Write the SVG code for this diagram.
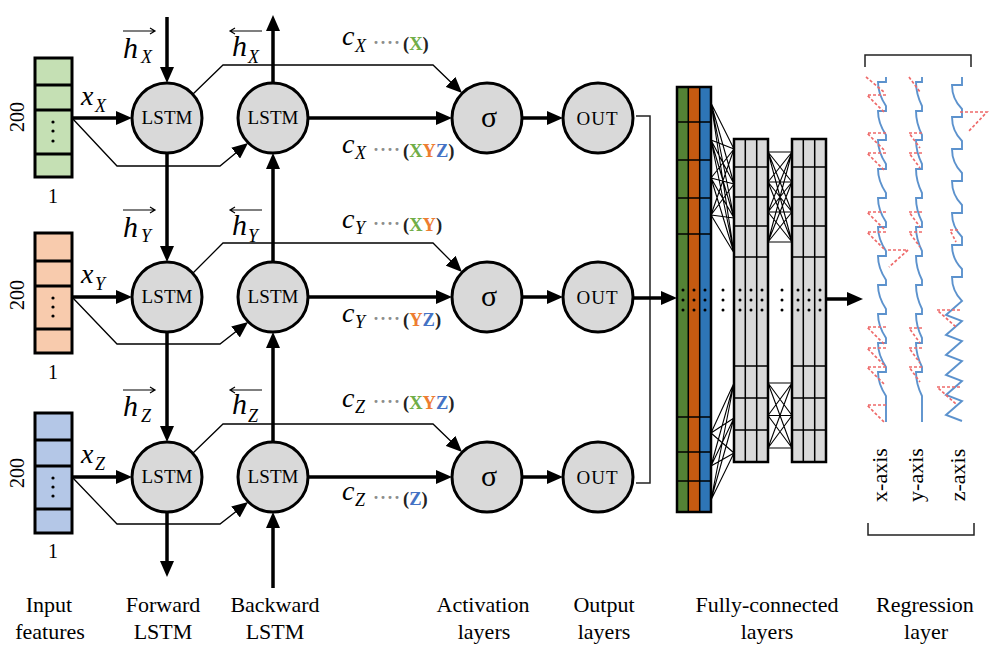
<svg xmlns="http://www.w3.org/2000/svg" width="1004" height="660" viewBox="0 0 1004 660">
<defs>
<marker id="ah" viewBox="0 0 16 14" refX="10" refY="7" markerWidth="16" markerHeight="14" markerUnits="userSpaceOnUse" orient="auto"><path d="M0,0 L16,7 L0,14 z" fill="#000"/></marker>
</defs>
<style>
.cir{fill:#d9d9d9;stroke:#000;stroke-width:3}
.box{stroke:#000;stroke-width:3}
.thick{stroke:#000;stroke-width:3.5;fill:none}
.thin{stroke:#000;stroke-width:1.3;fill:none}
.ov{stroke:#000;stroke-width:1.2;fill:none}
.ctr{font-family:"Liberation Serif","Times New Roman",serif;text-anchor:middle}
.lbl{font-family:"Liberation Serif","Times New Roman",serif;font-size:22px;text-anchor:middle;fill:#000}
.mi{font-family:"Liberation Serif","Times New Roman",serif;font-style:italic;fill:#000}
.par{font-family:"Liberation Serif","Times New Roman",serif;font-weight:bold;font-size:18.5px;fill:#222}
.dots{font-family:"Liberation Serif","Times New Roman",serif;font-size:18px;font-weight:bold;letter-spacing:1px;fill:#8c8c8c}
.gx{fill:#70ad47}.gy{fill:#ed7d31}.gz{fill:#4472c4}
.fcl{stroke:#000;stroke-width:1.5;fill:none}
.fco{stroke:#000;stroke-width:2.5;fill:none}
.bip{stroke:#000;stroke-width:1.1;fill:none}
.bl{stroke:#3f7fc4;stroke-width:1.9;fill:none;opacity:0.85}
.rd{stroke:#ee6a6a;stroke-width:1.7;fill:none;stroke-dasharray:3 2}
.br{stroke:#222;stroke-width:1.5;fill:none}
</style>
<rect width="1004" height="660" fill="#fff"/>

<!-- Input features -->
<g id="input-x">
<rect class="box" x="35" y="58" width="37" height="119" fill="#c5e0b4"/>
<path class="box" d="M35,85H72M35,110H72M35,154H72" fill="none"/>
<circle cx="53" cy="122" r="1.6"/><circle cx="53" cy="131" r="1.6"/><circle cx="53" cy="141" r="1.6"/>
<text class="ctr" font-size="20" transform="translate(24,117) rotate(-90)">200</text>
<text class="ctr" font-size="20" x="53" y="203">1</text>
</g>
<g id="input-y">
<rect class="box" x="35" y="233" width="37" height="120" fill="#f8cbad"/>
<path class="box" d="M35,261H72M35,286H72M35,329H72" fill="none"/>
<circle cx="53" cy="298" r="1.6"/><circle cx="53" cy="307" r="1.6"/><circle cx="53" cy="316" r="1.6"/>
<text class="ctr" font-size="20" transform="translate(24,295) rotate(-90)">200</text>
<text class="ctr" font-size="20" x="53" y="379">1</text>
</g>
<g id="input-z">
<rect class="box" x="35" y="413" width="37" height="120" fill="#b4c7e7"/>
<path class="box" d="M35,440H72M35,466H72M35,509H72" fill="none"/>
<circle cx="53" cy="478" r="1.6"/><circle cx="53" cy="487" r="1.6"/><circle cx="53" cy="496" r="1.6"/>
<text class="ctr" font-size="20" transform="translate(24,473) rotate(-90)">200</text>
<text class="ctr" font-size="20" x="53" y="558">1</text>
</g>

<!-- Forward LSTM -->
<g id="fwd-x"><circle class="cir" cx="167" cy="118" r="35"/><text class="ctr" font-size="19" x="167" y="124" textLength="51">LSTM</text></g>
<g id="fwd-y"><circle class="cir" cx="167" cy="297" r="35"/><text class="ctr" font-size="19" x="167" y="303" textLength="51">LSTM</text></g>
<g id="fwd-z"><circle class="cir" cx="167" cy="477" r="35"/><text class="ctr" font-size="19" x="167" y="483" textLength="51">LSTM</text></g>
<!-- Backward LSTM -->
<g id="bwd-x"><circle class="cir" cx="273" cy="118" r="35"/><text class="ctr" font-size="19" x="273" y="124" textLength="51">LSTM</text></g>
<g id="bwd-y"><circle class="cir" cx="273" cy="297" r="35"/><text class="ctr" font-size="19" x="273" y="303" textLength="51">LSTM</text></g>
<g id="bwd-z"><circle class="cir" cx="273" cy="477" r="35"/><text class="ctr" font-size="19" x="273" y="483" textLength="51">LSTM</text></g>
<!-- Activation -->
<g id="act-x"><circle class="cir" cx="487" cy="118" r="35"/><text class="ctr" font-size="30" x="489" y="127">σ</text></g>
<g id="act-y"><circle class="cir" cx="487" cy="297" r="35"/><text class="ctr" font-size="30" x="489" y="306">σ</text></g>
<g id="act-z"><circle class="cir" cx="487" cy="477" r="35"/><text class="ctr" font-size="30" x="489" y="486">σ</text></g>
<!-- Output -->
<g id="out-x"><circle class="cir" cx="598" cy="118" r="35"/><text class="ctr" font-size="19" x="597" y="125" textLength="41">OUT</text></g>
<g id="out-y"><circle class="cir" cx="598" cy="297" r="35"/><text class="ctr" font-size="19" x="597" y="304" textLength="41">OUT</text></g>
<g id="out-z"><circle class="cir" cx="598" cy="477" r="35"/><text class="ctr" font-size="19" x="597" y="484" textLength="41">OUT</text></g>

<!-- Fully connected layers -->
<g id="fc-1">
<rect x="677" y="87" width="11.3" height="425" fill="#548235"/>
<rect x="688.3" y="87" width="11.4" height="425" fill="#c55a11"/>
<rect x="699.7" y="87" width="11.3" height="425" fill="#2e75b6"/>
<path class="fcl" d="M688.3,87V512M699.7,87V512M677,122H711M677,160H711M677,198H711M677,234H711M677,417H711M677,452H711M677,481H711"/>
<rect class="fco" x="677" y="87" width="34" height="425"/>
</g>
<g id="fc-2">
<rect x="734" y="139" width="34" height="323" fill="#d9d9d9"/>
<path class="fcl" d="M745.3,139V462M756.7,139V462M734,167H768M734,197H768M734,226H768M734,257H768M734,366H768M734,398H768M734,430H768"/>
<rect class="fco" x="734" y="139" width="34" height="323"/>
</g>
<g id="fc-3">
<rect x="792" y="139" width="34" height="323" fill="#d9d9d9"/>
<path class="fcl" d="M803.3,139V462M814.7,139V462M792,167H826M792,197H826M792,226H826M792,257H826M792,366H826M792,398H826M792,430H826"/>
<rect class="fco" x="792" y="139" width="34" height="323"/>
</g>
<g id="fc-dots" fill="#000">
<circle cx="683" cy="290" r="1.5"/><circle cx="683" cy="300" r="1.5"/><circle cx="683" cy="310" r="1.5"/>
<circle cx="694" cy="290" r="1.5"/><circle cx="694" cy="300" r="1.5"/><circle cx="694" cy="310" r="1.5"/>
<circle cx="705" cy="290" r="1.5"/><circle cx="705" cy="300" r="1.5"/><circle cx="705" cy="310" r="1.5"/>
<circle cx="723" cy="290" r="1.5"/><circle cx="723" cy="300" r="1.5"/><circle cx="723" cy="310" r="1.5"/>
<circle cx="740" cy="290" r="1.5"/><circle cx="740" cy="300" r="1.5"/><circle cx="740" cy="310" r="1.5"/>
<circle cx="751" cy="290" r="1.5"/><circle cx="751" cy="300" r="1.5"/><circle cx="751" cy="310" r="1.5"/>
<circle cx="762" cy="290" r="1.5"/><circle cx="762" cy="300" r="1.5"/><circle cx="762" cy="310" r="1.5"/>
<circle cx="782" cy="290" r="1.5"/><circle cx="782" cy="300" r="1.5"/><circle cx="782" cy="310" r="1.5"/>
<circle cx="798" cy="290" r="1.5"/><circle cx="798" cy="300" r="1.5"/><circle cx="798" cy="310" r="1.5"/>
<circle cx="809" cy="290" r="1.5"/><circle cx="809" cy="300" r="1.5"/><circle cx="809" cy="310" r="1.5"/>
<circle cx="820" cy="290" r="1.5"/><circle cx="820" cy="300" r="1.5"/><circle cx="820" cy="310" r="1.5"/>
</g>
<g id="fc-links">
<path class="bip" d="M711,103L734,149M711,103L734,184M711,103L734,218M711,103L734,253M711,140L734,149M711,140L734,184M711,140L734,218M711,140L734,253M711,178L734,149M711,178L734,184M711,178L734,218M711,178L734,253M711,215L734,149M711,215L734,184M711,215L734,218M711,215L734,253"/>
<path class="bip" d="M711,433L734,383M711,433L734,418M711,433L734,453M711,466L734,383M711,466L734,418M711,466L734,453M711,500L734,383M711,500L734,418M711,500L734,453"/>
<path class="bip" d="M768,152L792,152M768,152L792,182M768,152L792,212M768,152L792,242M768,182L792,152M768,182L792,182M768,182L792,212M768,182L792,242M768,212L792,152M768,212L792,182M768,212L792,212M768,212L792,242M768,242L792,152M768,242L792,182M768,242L792,212M768,242L792,242"/>
<path class="bip" d="M768,383L792,383M768,383L792,415.5M768,383L792,448M768,415.5L792,383M768,415.5L792,415.5M768,415.5L792,448M768,448L792,383M768,448L792,415.5M768,448L792,448"/>
</g>

<!-- Regression layer -->
<g id="regression">
<path class="br" d="M865,67V55H971V67"/>
<path class="br" d="M868,523V535H974V523"/>
<path class="bl" d="M886,77v5h-8q0,12 8,24v5h-8q0,12 8,24v5h-8q0,12 8,24v5h-8q0,12 8,24v5h-8q0,12 8,24v5h-8q0,12 8,24v5h-8q0,12 8,24v5h-8q0,12 8,24v5h-8q0,12 8,24v5h-8q0,12 8,24v5h-8q0,12 8,24v26"/>
<path class="bl" d="M922,77v5h-6q0,12 6,24v5h-6q0,12 6,24v5h-6q0,12 6,24v5h-6q0,12 6,24v5h-6q0,12 6,24v5h-6q0,12 6,24v5h-6q0,12 6,24v5h-6q0,12 6,24v5h-6q0,12 6,24v5h-6q0,12 6,24v5h-6q0,12 6,24v26"/>
<path class="bl" d="M962,77v8h-10q0,14 10,24v8h-10q0,14 10,24v8h-10q0,14 10,24v8h-10q0,14 10,24v8h-10q0,14 10,24v8h-10q0,14 10,24v8h-10q0,14 10,24l-16,14l16,6l-16,14l16,6l-16,14l16,6l-16,14l16,6l-16,14l16,6l-16,14l16,6"/>
<path class="rd" d="M866,77L884,92M886,95H867L884,112M886,133H867L884,150M886,153H867L884,170M886,212H867L884,229M886,232H867L884,249M888,250H908L889,267M886,327H867L884,344M886,348H867L884,365M886,367H867L884,384M886,405H867L884,422"/>
<path class="rd" d="M909,77L920,92M922,133H909L920,148M922,153H909L920,168M922,212H909L920,227M922,232H909L920,247M922,328H909L920,343M922,348H909L920,363M922,367H909L920,382"/>
<path class="rd" d="M960,112H987L968,132M960,310H937L956,327M960,387H937L956,404M958,230H950L956,242"/>
<text class="ctr" font-size="22" transform="translate(887,475) rotate(-90)">x-axis</text>
<text class="ctr" font-size="22" transform="translate(923,475) rotate(-90)">y-axis</text>
<text class="ctr" font-size="22" transform="translate(965,475) rotate(-90)">z-axis</text>
</g>

<!-- Connectors -->
<g id="connectors">
<line class="thick" x1="72" y1="118" x2="126" y2="118" marker-end="url(#ah)"/>
<line class="thick" x1="72" y1="297" x2="126" y2="297" marker-end="url(#ah)"/>
<line class="thick" x1="72" y1="477" x2="126" y2="477" marker-end="url(#ah)"/>
<polyline class="thin" points="72,118 117,166 220,166 243.4,146.8" marker-end="url(#ah)"/>
<polyline class="thin" points="72,297 117,344 220,344 243.4,325.8" marker-end="url(#ah)"/>
<polyline class="thin" points="72,477 117,524 220,524 243.4,505.8" marker-end="url(#ah)"/>
<line class="thick" x1="167" y1="17" x2="167" y2="77" marker-end="url(#ah)"/>
<line class="thick" x1="167" y1="153" x2="167" y2="256" marker-end="url(#ah)"/>
<line class="thick" x1="167" y1="332" x2="167" y2="436" marker-end="url(#ah)"/>
<line class="thick" x1="167" y1="512" x2="167" y2="571" marker-end="url(#ah)"/>
<line class="thick" x1="273" y1="588" x2="273" y2="518" marker-end="url(#ah)"/>
<line class="thick" x1="273" y1="442" x2="273" y2="338" marker-end="url(#ah)"/>
<line class="thick" x1="273" y1="262" x2="273" y2="159" marker-end="url(#ah)"/>
<line class="thick" x1="273" y1="83" x2="273" y2="21" marker-end="url(#ah)"/>
<polyline class="thin" points="193,94 223,65 433,65 457.7,88.8" marker-end="url(#ah)"/>
<polyline class="thin" points="193,273 223,243 433,243 457.7,267.8" marker-end="url(#ah)"/>
<polyline class="thin" points="193,453 223,424 433,424 457.7,447.8" marker-end="url(#ah)"/>
<line class="thick" x1="308" y1="118" x2="446" y2="118" marker-end="url(#ah)"/>
<line class="thick" x1="308" y1="297" x2="446" y2="297" marker-end="url(#ah)"/>
<line class="thick" x1="308" y1="477" x2="446" y2="477" marker-end="url(#ah)"/>
<line class="thick" x1="522" y1="118" x2="557" y2="118" marker-end="url(#ah)"/>
<line class="thick" x1="522" y1="297" x2="557" y2="297" marker-end="url(#ah)"/>
<line class="thick" x1="522" y1="477" x2="557" y2="477" marker-end="url(#ah)"/>
<path class="br" d="M636,116H650V483H636"/>
<line class="thick" x1="633" y1="298" x2="671" y2="298" marker-end="url(#ah)"/>
<line class="thick" x1="826" y1="299" x2="857" y2="299" marker-end="url(#ah)"/>
</g>

<!-- hidden state labels -->
<g id="h-labels">
<path class="ov" d="M123,31H155M150,28L155,31L150,34"/>
<text class="mi" font-size="30" x="123" y="58">h</text><text class="mi" font-size="18" x="141" y="63">X</text>
<path class="ov" d="M230,31H262M235,28L230,31L235,34"/>
<text class="mi" font-size="30" x="232" y="56">h</text><text class="mi" font-size="18" x="248" y="63">X</text>
<path class="ov" d="M123,210H155M150,207L155,210L150,213"/>
<text class="mi" font-size="30" x="123" y="237">h</text><text class="mi" font-size="18" x="141" y="242">Y</text>
<path class="ov" d="M230,210H262M235,207L230,210L235,213"/>
<text class="mi" font-size="30" x="232" y="235">h</text><text class="mi" font-size="18" x="248" y="242">Y</text>
<path class="ov" d="M123,390H155M150,387L155,390L150,393"/>
<text class="mi" font-size="30" x="123" y="416">h</text><text class="mi" font-size="18" x="141" y="422">Z</text>
<path class="ov" d="M230,390H262M235,387L230,390L235,393"/>
<text class="mi" font-size="30" x="232" y="414">h</text><text class="mi" font-size="18" x="248" y="422">Z</text>
</g>
<g id="x-labels">
<text class="mi" font-size="28" x="81" y="105">x</text><text class="mi" font-size="18" x="95" y="112">X</text>
<text class="mi" font-size="28" x="81" y="283">x</text><text class="mi" font-size="18" x="95" y="290">Y</text>
<text class="mi" font-size="28" x="81" y="463">x</text><text class="mi" font-size="18" x="95" y="470">Z</text>
</g>
<g id="c-labels">
<text class="mi" font-size="28" x="342" y="45">c</text><text class="mi" font-size="18" x="355" y="52">X</text>
<text class="dots" x="373" y="49">····</text>
<text class="par" x="403" y="50">(<tspan class="gx">X</tspan>)</text>

<text class="mi" font-size="28" x="342" y="153">c</text><text class="mi" font-size="18" x="355" y="159">X</text>
<text class="dots" x="373" y="156">····</text>
<text class="par" x="403" y="157">(<tspan class="gx">X</tspan><tspan class="gy">Y</tspan><tspan class="gz">Z</tspan>)</text>

<text class="mi" font-size="28" x="342" y="228">c</text><text class="mi" font-size="18" x="355" y="234">Y</text>
<text class="dots" x="373" y="230">····</text>
<text class="par" x="403" y="231">(<tspan class="gx">X</tspan><tspan class="gy">Y</tspan>)</text>

<text class="mi" font-size="28" x="342" y="322">c</text><text class="mi" font-size="18" x="355" y="328">Y</text>
<text class="dots" x="373" y="325">····</text>
<text class="par" x="403" y="326">(<tspan class="gy">Y</tspan><tspan class="gz">Z</tspan>)</text>

<text class="mi" font-size="28" x="342" y="407">c</text><text class="mi" font-size="18" x="355" y="413">Z</text>
<text class="dots" x="373" y="408">····</text>
<text class="par" x="403" y="409">(<tspan class="gx">X</tspan><tspan class="gy">Y</tspan><tspan class="gz">Z</tspan>)</text>

<text class="mi" font-size="28" x="342" y="500">c</text><text class="mi" font-size="18" x="355" y="506">Z</text>
<text class="dots" x="373" y="504">····</text>
<text class="par" x="403" y="505">(<tspan class="gz">Z</tspan>)</text>
</g>

<g id="captions">
<text class="lbl" x="49" y="612">Input</text><text class="lbl" x="50" y="639">features</text>
<text class="lbl" x="163" y="612">Forward</text><text class="lbl" x="163" y="639">LSTM</text>
<text class="lbl" x="275" y="612">Backward</text><text class="lbl" x="275" y="639">LSTM</text>
<text class="lbl" x="483" y="612">Activation</text><text class="lbl" x="484" y="639">layers</text>
<text class="lbl" x="604" y="612">Output</text><text class="lbl" x="604" y="639">layers</text>
<text class="lbl" x="767" y="612">Fully-connected</text><text class="lbl" x="767" y="639">layers</text>
<text class="lbl" x="925" y="612">Regression</text><text class="lbl" x="926" y="639">layer</text>
</g>
</svg>
